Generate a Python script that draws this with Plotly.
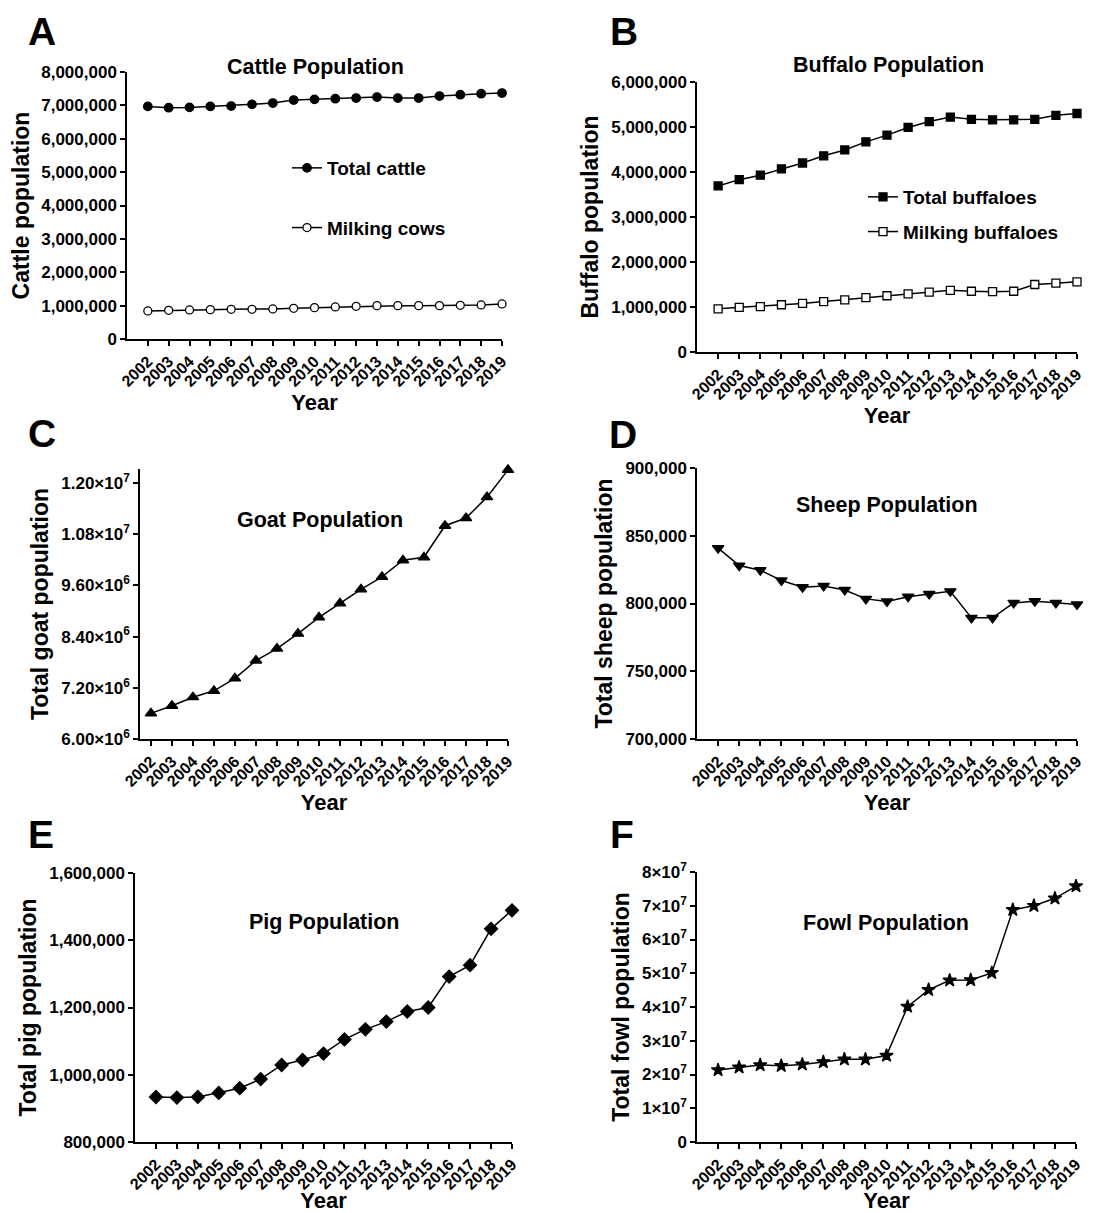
import plotly.graph_objects as go

# The page body has an 8px default margin, so the figure is drawn 8px in from the corner.
OFF = 8
W, H = 1120 - OFF, 1213 - OFF

years = list(range(2002, 2020))

cattle_total = [6.97e6, 6.93e6, 6.94e6, 6.97e6, 6.98e6, 7.03e6, 7.07e6, 7.16e6, 7.18e6,
                7.20e6, 7.22e6, 7.25e6, 7.22e6, 7.22e6, 7.28e6, 7.32e6, 7.35e6, 7.37e6]
cattle_milking = [0.84e6, 0.86e6, 0.87e6, 0.88e6, 0.89e6, 0.89e6, 0.90e6, 0.92e6, 0.94e6,
                  0.96e6, 0.98e6, 1.00e6, 1.00e6, 1.00e6, 1.00e6, 1.01e6, 1.02e6, 1.05e6]
buffalo_total = [3.69e6, 3.83e6, 3.93e6, 4.07e6, 4.20e6, 4.36e6, 4.49e6, 4.67e6, 4.82e6,
                 4.99e6, 5.12e6, 5.22e6, 5.17e6, 5.16e6, 5.16e6, 5.17e6, 5.26e6, 5.30e6]
buffalo_milking = [0.96e6, 0.99e6, 1.01e6, 1.05e6, 1.08e6, 1.12e6, 1.16e6, 1.21e6, 1.25e6,
                   1.29e6, 1.33e6, 1.37e6, 1.35e6, 1.34e6, 1.35e6, 1.50e6, 1.53e6, 1.56e6]
goat_total = [6.60e6, 6.78e6, 6.98e6, 7.13e6, 7.42e6, 7.84e6, 8.12e6, 8.47e6, 8.85e6,
              9.18e6, 9.51e6, 9.80e6, 10.19e6, 10.26e6, 11.00e6, 11.18e6, 11.67e6, 12.31e6]
sheep_total = [840900, 828000, 824600, 817000, 812000, 813000, 810000, 803400, 801500,
               805000, 807000, 809000, 789400, 789400, 800500, 801700, 800500, 799300]
pig_total = [933800, 932000, 934000, 946000, 960000, 987000, 1029000, 1044000, 1063000,
             1105000, 1135000, 1158000, 1188000, 1200000, 1292000, 1326000, 1434000, 1489000]
fowl_total = [2.13e7, 2.21e7, 2.28e7, 2.26e7, 2.30e7, 2.37e7, 2.45e7, 2.45e7, 2.56e7,
              4.01e7, 4.51e7, 4.79e7, 4.80e7, 5.01e7, 6.88e7, 7.00e7, 7.22e7, 7.58e7]

goat_tickvals = [6.0e6, 7.2e6, 8.4e6, 9.6e6, 10.8e6, 12.0e6]
goat_ticktext = ["6.00×10<sup>6</sup>", "7.20×10<sup>6</sup>", "8.40×10<sup>6</sup>",
                 "9.60×10<sup>6</sup>", "1.08×10<sup>7</sup>", "1.20×10<sup>7</sup>"]
fowl_tickvals = [0, 1e7, 2e7, 3e7, 4e7, 5e7, 6e7, 7e7, 8e7]
fowl_ticktext = ["0"] + [f"{i}×10<sup>7</sup>" for i in range(1, 9)]

FONT = "Liberation Sans, Arial, Helvetica, sans-serif"


def px2x(p):
    return (p - OFF) / W


def px2y(p):
    return 1 - (p - OFF) / H


# panel geometry in window pixels: (x0, x1, y_top, y_bottom)
panels = {
    "A": (127, 502, 72, 339),
    "B": (697, 1077, 82, 352),
    "C": (140, 508, 469, 739),
    "D": (697, 1077, 468, 739),
    "E": (135, 512, 873, 1142),
    "F": (697, 1076, 872, 1142),
}

fig = go.Figure()

line = dict(color="black", width=1.5)


def add(series, name, idx, symbol, size, fill, legend=None, showlegend=False, group=None):
    fig.add_trace(go.Scatter(
        x=years, y=series, name=name, mode="lines+markers",
        line=line, cliponaxis=False,
        marker=dict(symbol=symbol, size=size, color=fill, line=dict(color="black", width=1.3)),
        xaxis=f"x{idx}" if idx > 1 else "x", yaxis=f"y{idx}" if idx > 1 else "y",
        showlegend=showlegend, legend=legend, legendgroup=group,
    ))


add(cattle_total, "Total cattle", 1, "circle", 8.5, "black", "legend", True, "a1")
add(cattle_milking, "Milking cows", 1, "circle", 8, "white", "legend", True, "a2")
add(buffalo_total, "Total buffaloes", 2, "square", 8, "black", "legend2", True, "b1")
add(buffalo_milking, "Milking buffaloes", 2, "square", 8, "white", "legend2", True, "b2")
add(goat_total, "Goat", 3, "triangle-up", 10, "black")
add(sheep_total, "Sheep", 4, "triangle-down", 10, "black")
add(pig_total, "Pig", 5, "diamond", 10, "black")
add(fowl_total, "Fowl", 6, "star", 10, "black")

common_ax = dict(showline=True, linecolor="black", linewidth=1.5, ticks="outside",
                 ticklen=5, tickwidth=1.5, tickcolor="black", showgrid=False,
                 zeroline=False, mirror=False, automargin=False)

yconf = {
    "A": dict(range=[0, 8e6], dtick=1e6, tickformat=",d", title="Cattle population"),
    "B": dict(range=[0, 6e6], dtick=1e6, tickformat=",d", title="Buffalo population"),
    "C": dict(range=[6e6, 1.233e7], tickvals=goat_tickvals, ticktext=goat_ticktext,
              title="Total goat population"),
    "D": dict(range=[700000, 900000], dtick=50000, tickformat=",d",
              title="Total sheep population"),
    "E": dict(range=[800000, 1600000], dtick=200000, tickformat=",d",
              title="Total pig population"),
    "F": dict(range=[0, 8e7], tickvals=fowl_tickvals, ticktext=fowl_ticktext,
              title="Total fowl population"),
}
xstart = {"A": 2001, "B": 2001, "C": 2001.48, "D": 2001, "E": 2001, "F": 2001}

for i, key in enumerate("ABCDEF", start=1):
    x0, x1, yt, yb = panels[key]
    sfx = "" if i == 1 else str(i)
    yc = dict(yconf[key])
    title = yc.pop("title")
    fig.layout[f"xaxis{sfx}"] = dict(
        common_ax, domain=[px2x(x0), px2x(x1)], anchor=f"y{sfx}",
        range=[xstart[key], 2019], tickvals=years, ticktext=[str(y) for y in years],
        tickangle=-45, tickfont=dict(size=16),
        title=dict(text="Year", font=dict(size=22), standoff=2),
    )
    fig.layout[f"yaxis{sfx}"] = dict(
        common_ax, domain=[px2y(yb), px2y(yt)], anchor=f"x{sfx}",
        tickfont=dict(size=17),
        title=dict(text=title, font=dict(size=23), standoff=6), **yc,
    )

annotations = []
# panel letters: (x centre, y top of text box) in window pixels
letters = {"A": (42, 8), "B": (624, 8), "C": (42, 410), "D": (623, 411),
           "E": (41, 811), "F": (622, 811)}
for k, (lx, ly) in letters.items():
    annotations.append(dict(text=k, x=px2x(lx), y=px2y(ly), xref="paper", yref="paper",
                            showarrow=False, font=dict(size=39), xanchor="center",
                            yanchor="top"))

titles = {"A": ("Cattle Population", 315, 67), "B": ("Buffalo Population", 888, 65),
          "C": ("Goat Population", 320, 520), "D": ("Sheep Population", 887, 505),
          "E": ("Pig Population", 324, 922), "F": ("Fowl Population", 886, 923)}
for k, (t, tx, ty) in titles.items():
    annotations.append(dict(text=t, x=px2x(tx), y=px2y(ty), xref="paper", yref="paper",
                            showarrow=False, font=dict(size=21.5), xanchor="center",
                            yanchor="middle"))

fig.update_layout(
    width=W, height=H, margin=dict(l=0, r=0, t=0, b=0, autoexpand=False),
    paper_bgcolor="white", plot_bgcolor="white",
    font=dict(family=FONT, color="black", weight="bold"),
    annotations=annotations,
    legend=dict(x=px2x(287), y=px2y(149), xanchor="left", yanchor="top",
                font=dict(size=19), itemwidth=30, tracegroupgap=32,
                bgcolor="rgba(0,0,0,0)"),
    legend2=dict(x=px2x(863), y=px2y(178), xanchor="left", yanchor="top",
                 font=dict(size=19), itemwidth=30, tracegroupgap=7,
                 bgcolor="rgba(0,0,0,0)"),
)

fig.write_html("out.html")
